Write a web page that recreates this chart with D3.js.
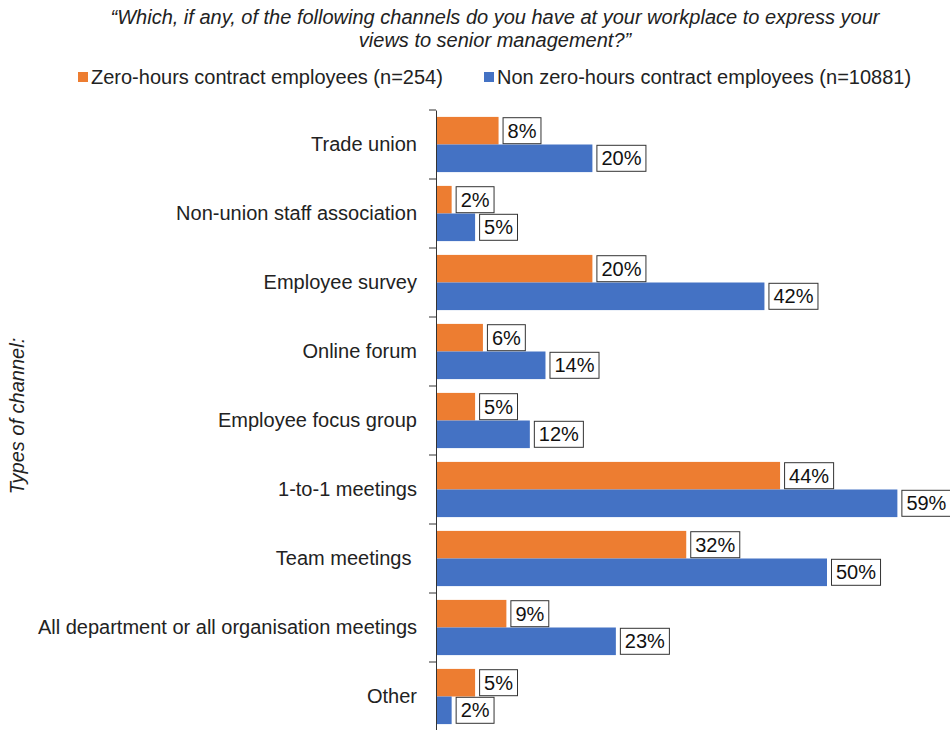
<!DOCTYPE html>
<html><head><meta charset="utf-8">
<script src="https://cdn.jsdelivr.net/npm/d3@7/dist/d3.min.js"></script>
<style>body{margin:0;background:#fff}text{font-family:"Liberation Sans",Arial,sans-serif}</style>
</head><body><svg id="c" width="950" height="730"></svg>
<script>
const categories = ["Trade union","Non-union staff association","Employee survey","Online forum","Employee focus group","1-to-1 meetings","Team meetings ","All department or all organisation meetings","Other"];
const zeroHours = [8,2,20,6,5,44,32,9,5];
const nonZeroHours = [20,5,42,14,12,59,50,23,2];
const seriesNames = ["Zero-hours contract employees (n=254)","Non zero-hours contract employees (n=10881)"];
const colors = ["#ED7D31","#4472C4"];
const titleLines = ["\u201cWhich, if any, of the following channels do you have at your workplace to express your","views to senior management?\u201d"];
const yTitle = "Types of channel:";

const FS = 20;
const svg = d3.select("#c");
const x0 = 436;
const x = d3.scaleLinear().domain([0,60]).range([x0, x0+469.2]);
const y = d3.scaleBand().domain(categories).range([110, 731]).paddingInner(0).paddingOuter(0);
const inner = d3.scaleBand().domain([0,1]).range([0, y.bandwidth()]).paddingOuter(0.25).paddingInner(0);

// title
svg.selectAll("text.title").data(titleLines).join("text")
  .attr("x", 495).attr("y",(d,i)=>24+i*23).attr("text-anchor","middle")
  .attr("font-size",FS).attr("font-style","italic").attr("fill","#222").text(d=>d);

// legend
const legX = [78, 484];
seriesNames.forEach((n,i)=>{
  svg.append("rect").attr("x",legX[i]).attr("y",72).attr("width",10).attr("height",10).attr("fill",colors[i]);
  svg.append("text").attr("x",legX[i]+13).attr("y",84).attr("font-size",FS).attr("fill","#222").text(n);
});

// y title
svg.append("text").attr("transform","translate(24,416) rotate(-90)").attr("text-anchor","middle")
  .attr("font-size",FS).attr("font-style","italic").attr("fill","#222").text(yTitle);

// bars
const data = categories.map((c,i)=>({c, v:[zeroHours[i], nonZeroHours[i]]}));
const g = svg.append("g");
data.forEach(d=>{
  d.v.forEach((v,s)=>{
    const yy = y(d.c)+inner(s);
    const h = inner.bandwidth();
    g.append("rect").attr("x",x(0)).attr("y",yy).attr("width",x(v)-x(0)).attr("height",h).attr("fill",colors[s]);
  });
});
// labels
data.forEach(d=>{
  d.v.forEach((v,s)=>{
    const yy = y(d.c)+inner(s);
    const h = inner.bandwidth();
    const lg = svg.append("g");
    const t = lg.append("text").attr("x",x(v)+9).attr("y",yy+h/2+7).attr("font-size",FS).attr("fill","#111").text(v+"%");
    const w = t.node().getComputedTextLength();
    lg.insert("rect","text").attr("x",x(v)+4.5).attr("y",yy+h/2-13).attr("width",w+9).attr("height",26)
      .attr("fill","#fff").attr("stroke","#333").attr("stroke-width",1);
  });
});

// axis
const axis = d3.axisLeft(y).tickSize(0).tickPadding(19);
const ag = svg.append("g").attr("transform",`translate(${x0},0)`).call(axis);
ag.select(".domain").attr("stroke","#333");
ag.selectAll(".tick text").attr("font-size",FS).attr("fill","#222").style("white-space","pre")
  .attr("font-family","Liberation Sans, Arial, sans-serif");
// boundary ticks
const bounds = categories.map(c=>y(c)).concat([y.range()[1]]);
svg.selectAll("line.bt").data(bounds).join("line").attr("x1",x0-7).attr("x2",x0).attr("y1",d=>d).attr("y2",d=>d).attr("stroke","#333");
</script></body></html>
